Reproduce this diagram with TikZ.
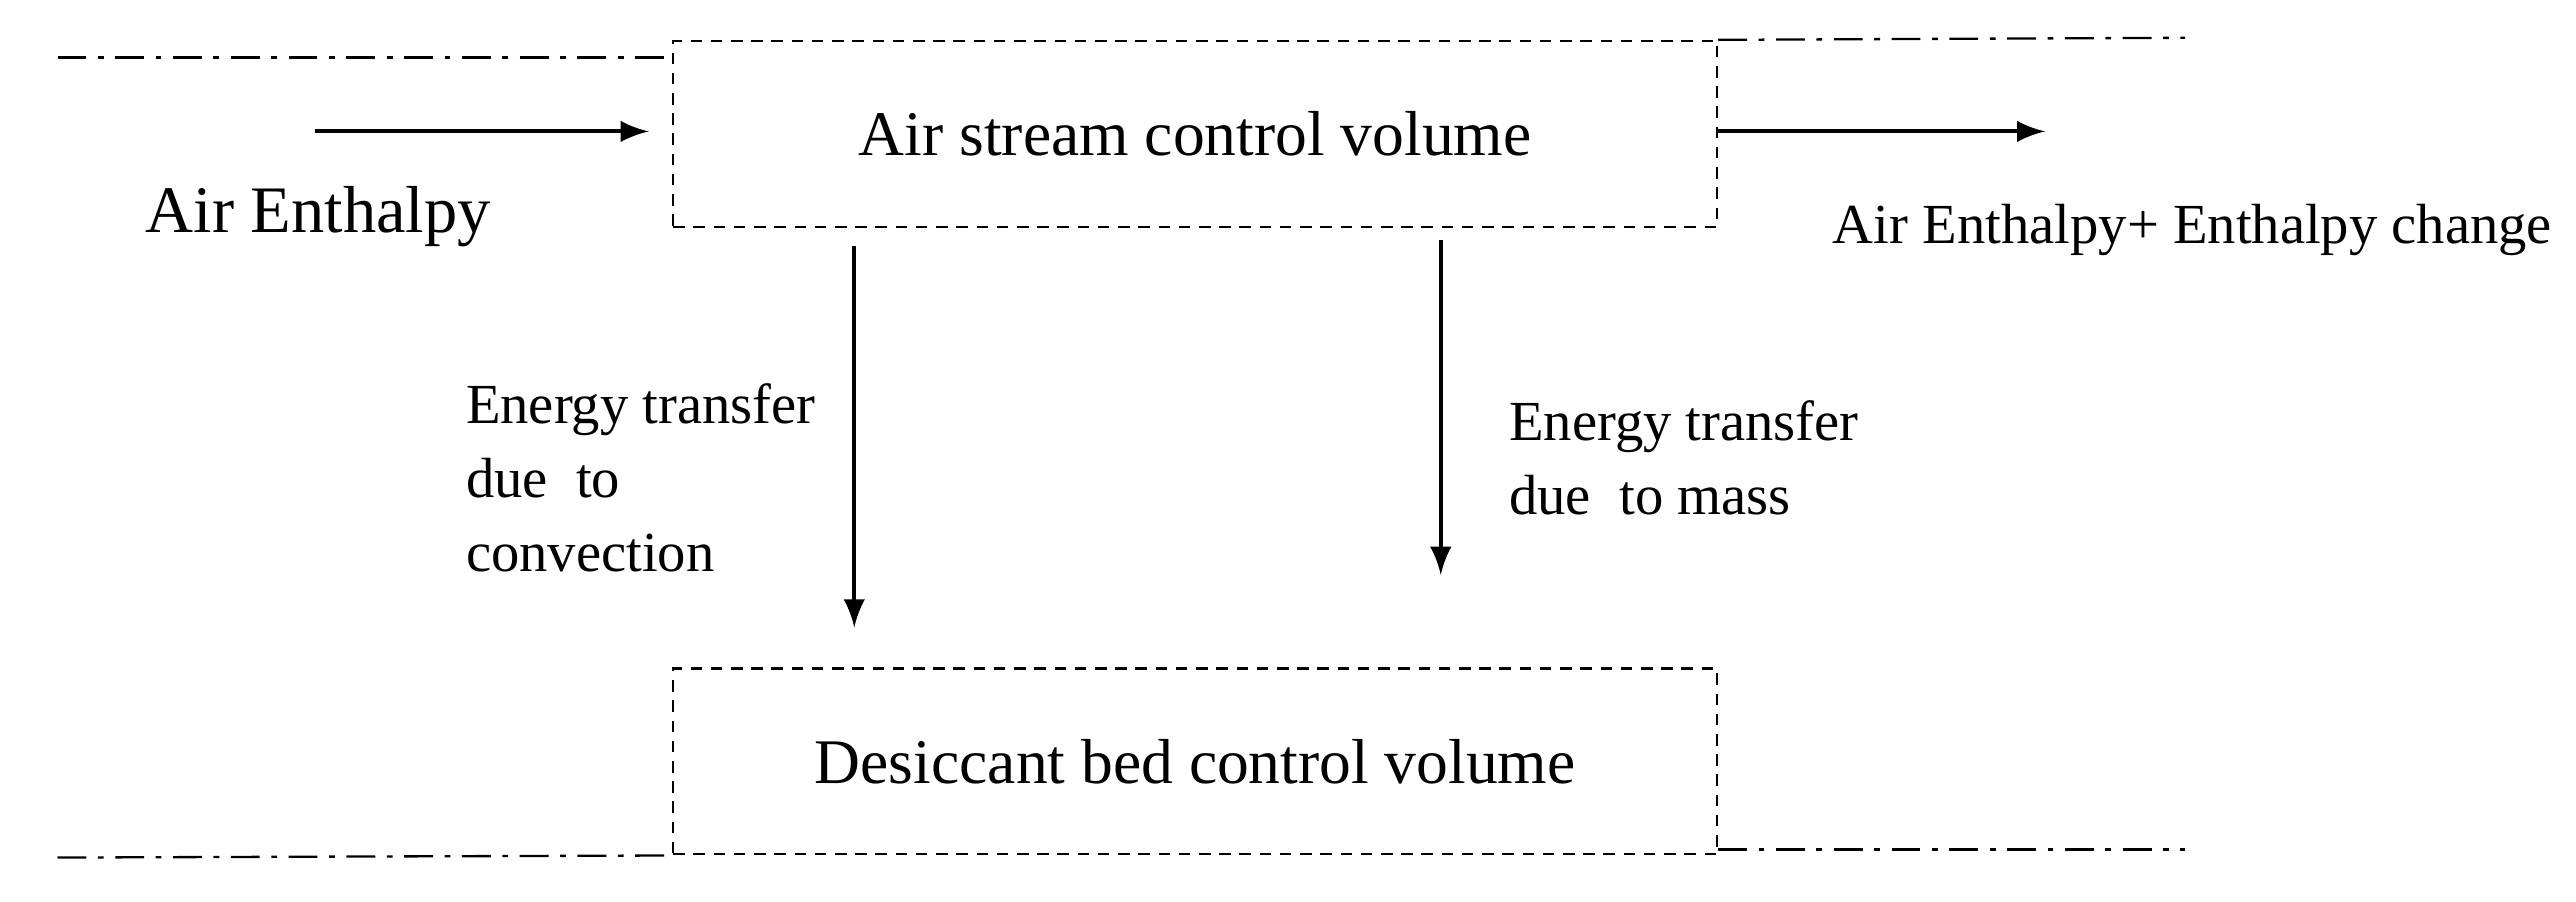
\documentclass[tikz,border=0pt]{standalone}
\usepackage{fontspec}
\setmainfont{Liberation Serif}
\begin{document}
\begin{tikzpicture}[x=0.01cm,y=-0.01cm,
 box/.style={draw,dashed,dash pattern=on 2pt off 1.5pt,line width=0.4pt,minimum width=6.35cm,minimum height=1.13cm,inner sep=0},
 dd/.style={line width=0.4pt,dash pattern=on 5pt off 2pt on 1pt off 2pt},
 arr/.style={-latex,line width=0.7pt},
 lbl/.style={align=left,inner sep=0}]
\useasboundingbox (0,0) rectangle (1568,549);
\node[box] (top) at (727.5,81.5) {\fontsize{11}{13}\selectfont Air stream control volume};
\node[box] (bot) at (727.5,463.5) {\fontsize{11}{13}\selectfont Desiccant bed control volume};
\coordinate (l1) at (35,35); \coordinate (r1) at (1330,23);
\coordinate (l2) at (35,522); \coordinate (r2) at (1330,517);
\draw[dd] (l1) -- (top.west |- l1);
\draw[dd] (top.north east) -- (r1);
\draw[dd] (l2) -- (bot.south west);
\draw[dd] (bot.south east |- r2) -- (r2);
\coordinate (a0) at (192,80); \coordinate (a1) at (395,80);
\draw[arr] (a0) -- (a1);
\coordinate (b1) at (1245,80);
\draw[arr] (top.east |- b1) -- (b1);
\coordinate (c0) at (520,150); \coordinate (c1) at (520,382);
\draw[arr] (c0) -- (c1);
\coordinate (d0) at (877,146); \coordinate (d1) at (877,350);
\draw[arr] (d0) -- (d1);
\node[lbl,font=\fontsize{11.5}{14}\selectfont,anchor=west] (ae) at (88,132) {Air Enthalpy};
\node[lbl,font=\fontsize{9.8}{12}\selectfont,anchor=west] (aec) at (1115,140) {Air Enthalpy+ Enthalpy change};
\node[lbl,anchor=north west,font=\fontsize{9.8}{12.8}\selectfont] (e1) at (283,233) {Energy transfer\\due\ \ to\\convection};
\node[lbl,anchor=north west,font=\fontsize{9.8}{12.8}\selectfont] (e2) at (918,243) {Energy transfer\\due\ \ to mass};
\end{tikzpicture}
\end{document}
